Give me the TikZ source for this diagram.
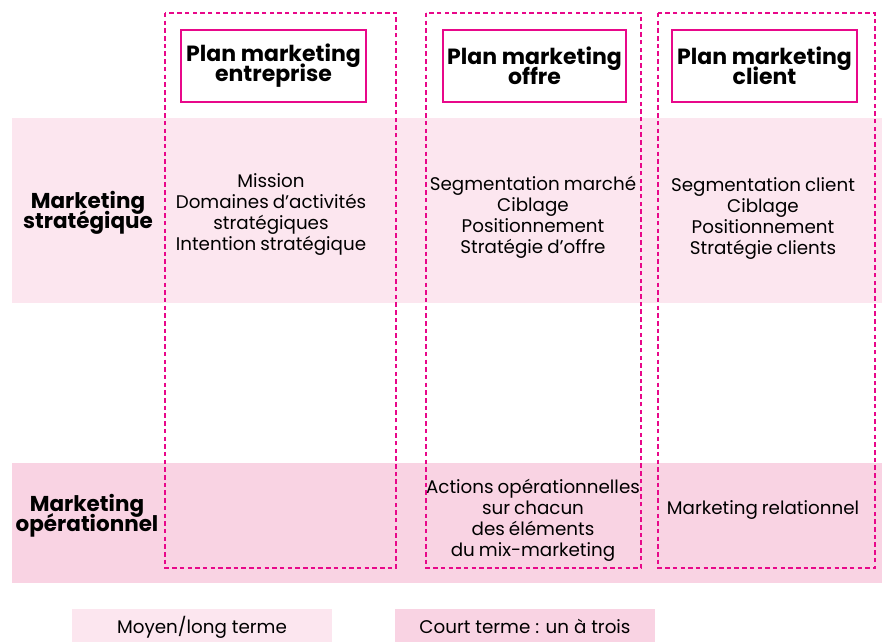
\documentclass[tikz,border=0pt]{standalone}
\usepackage{fontspec}
\setmainfont{Poppins}
\newcommand{\tightsp}{\spaceskip=0.22em plus 0.1em\relax}
\newcommand{\tightlines}{\lineskiplimit=-30pt\lineskip=0pt\relax}
\begin{document}
\begin{tikzpicture}[x=1pt,y=-1pt,
  band1/.style={fill=bandlight,draw=none},
  band2/.style={fill=banddark,draw=none},
  colbox/.style={draw=mag,line width=2.4pt,dash pattern=on 4.5pt off 3.2pt},
  headbox/.style={draw=mag,line width=1.3pt,fill=white,minimum width=185pt,minimum height=72pt,inner sep=0pt,align=center,font=\fontsize{22}{20}\selectfont\bfseries\tightlines},
  body/.style={align=center,font=\fontsize{18.3}{21}\selectfont\tightsp\tightlines,inner sep=0pt},
  rowlab/.style={align=center,font=\fontsize{21.5}{20}\selectfont\bfseries\tightlines,inner sep=0pt},
  legend/.style={minimum width=260pt,minimum height=33pt,inner sep=0pt,text height=17pt,text depth=2pt,font=\fontsize{18.3}{20}\selectfont}]
\definecolor{mag}{HTML}{E8088A}
\definecolor{bandlight}{HTML}{FCE6EF}
\definecolor{banddark}{HTML}{F9D3E3}
\useasboundingbox (0,0) rectangle (882,642);
% bands
\fill[band1] (12,118) rectangle (882,303);
\fill[band2] (12,463) rectangle (882,583);
% column boxes
\draw[colbox] (165,13) rectangle (396,568);
\draw[colbox] (426,13) rectangle (641,568);
\draw[colbox] (658,13) rectangle (875,568);
% headers
\node[headbox] (h1) at (273.5,66) {Plan marketing\\entreprise};
\node[headbox,minimum width=183pt] (h2) at (534.5,66) {Plan marketing\\offre};
\node[headbox] (h3) at (764.5,66) {Plan marketing\\client};
% row labels
\node[rowlab] (rs) at (88,213) {Marketing\\stratégique};
\node[rowlab] (ro) at (87,516) {Marketing\\opérationnel};
% strategic contents
\node[body] (s1) at (271,215) {Mission\\Domaines d’activités\\stratégiques\\Intention stratégique};
\node[body] (s2) at (533,217) {Segmentation marché\\Ciblage\\Positionnement\\Stratégie d’offre};
\node[body] (s3) at (763,219) {Segmentation client\\Ciblage\\Positionnement\\Stratégie clients};
% operational contents
\node[body] (o2) at (533,520) {Actions opérationnelles\\sur chacun\\des éléments\\du mix-marketing};
\node[body] (o3) at (763,510) {Marketing relationnel};
% legend
\node[legend,fill=bandlight] (l1) at (202,625.5) {Moyen/long terme};
\node[legend,fill=banddark] (l2) at (525,625.5) {Court terme : un à trois};
\end{tikzpicture}
\end{document}
